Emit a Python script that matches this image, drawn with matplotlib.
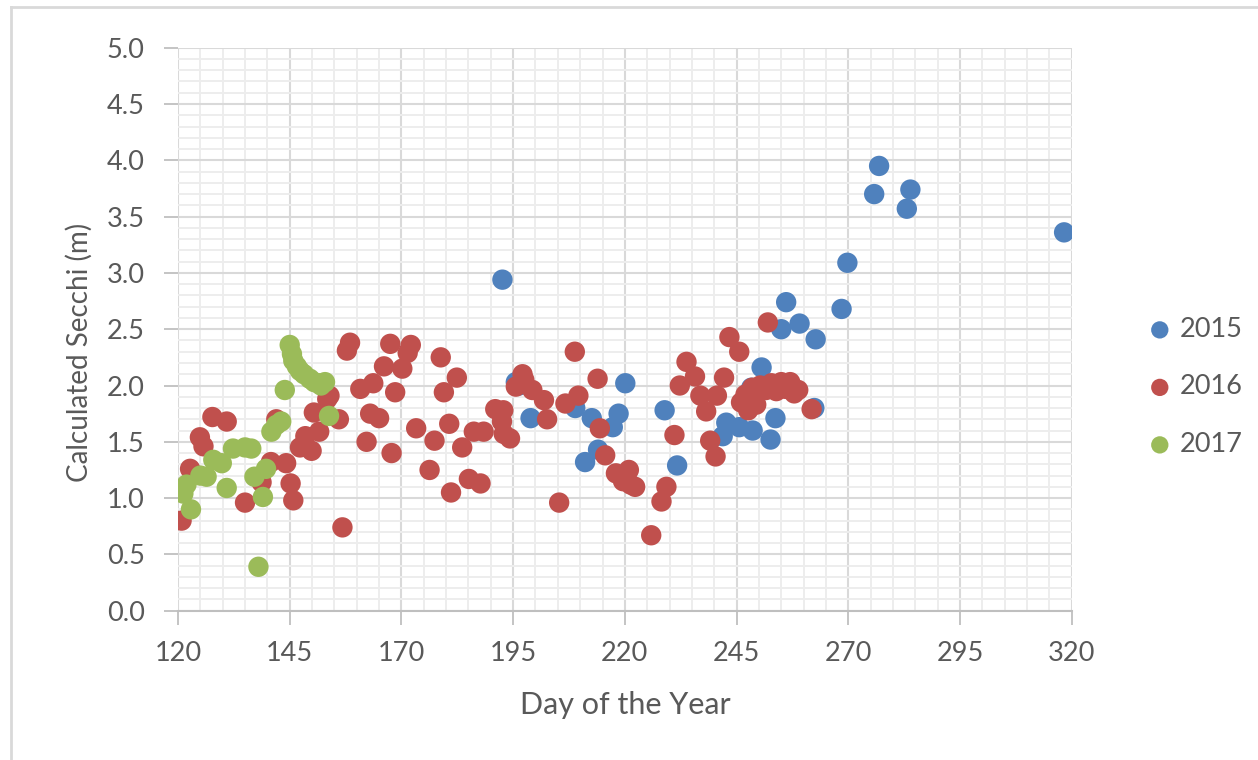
import matplotlib
matplotlib.use("Agg")
import matplotlib.pyplot as plt
from matplotlib.ticker import MultipleLocator, FormatStrFormatter
from matplotlib.lines import Line2D

plt.rcParams['font.family'] = ['Lato', 'DejaVu Sans']

# ---- data ----
day_2015 = [192.6, 195.6, 196.3, 198.9, 208.9, 211.1, 212.6, 214.0, 217.3, 218.6,
            220.1, 228.9, 231.7, 241.9, 242.7, 245.6, 248.3, 248.6, 250.6, 252.6,
            253.7, 255.0, 256.1, 259.1, 262.4, 262.7, 268.5, 269.8, 275.8, 276.9,
            283.1, 283.9, 318.3]
val_2015 = [2.94, 2.03, 2.00, 1.71, 1.80, 1.32, 1.71, 1.43, 1.63, 1.75,
            2.02, 1.78, 1.29, 1.55, 1.67, 1.63, 1.98, 1.60, 2.16, 1.52,
            1.71, 2.50, 2.74, 2.55, 1.80, 2.41, 2.68, 3.09, 3.70, 3.95,
            3.57, 3.74, 3.36]

day_2016 = [120.8, 122.7, 124.9, 125.7, 127.7, 130.9, 135.0, 138.7, 140.8, 142.0,
            144.2, 145.2, 145.8, 147.3, 148.5, 149.9, 150.4, 151.6, 153.4, 153.9,
            156.0, 156.8, 157.8, 158.5, 160.8, 162.2, 163.0, 163.7, 165.0, 166.1,
            167.5, 167.8, 168.6, 170.2, 171.4, 172.1, 173.3, 176.3, 177.4, 178.8,
            179.5, 180.7, 181.1, 182.4, 183.6, 185.1, 186.2, 187.7, 188.4, 191.0,
            192.5, 192.8, 192.9, 194.3, 195.6, 197.1, 197.5, 199.3, 201.9, 202.6,
            205.3, 206.7, 208.8, 209.6, 213.9, 214.4, 215.6, 218.0, 219.6, 220.9,
            221.3, 222.3, 225.9, 228.2, 229.3, 231.1, 232.3, 233.8, 235.7, 236.9,
            238.2, 239.1, 240.3, 240.6, 242.2, 243.4, 245.6, 246.0, 247.0, 247.6,
            248.5, 249.4, 250.3, 251.6, 252.0, 252.8, 253.9, 255.0, 256.0, 257.0,
            257.9, 258.8, 261.8]
val_2016 = [0.80, 1.26, 1.54, 1.46, 1.72, 1.68, 0.96, 1.14, 1.32, 1.70,
            1.31, 1.13, 0.98, 1.45, 1.55, 1.42, 1.76, 1.59, 1.88, 1.91,
            1.70, 0.74, 2.31, 2.38, 1.97, 1.50, 1.75, 2.02, 1.71, 2.17,
            2.37, 1.40, 1.94, 2.15, 2.29, 2.36, 1.62, 1.25, 1.51, 2.25,
            1.94, 1.66, 1.05, 2.07, 1.45, 1.17, 1.59, 1.13, 1.59, 1.79,
            1.68, 1.78, 1.57, 1.53, 1.99, 2.10, 2.05, 1.96, 1.87, 1.70,
            0.96, 1.84, 2.30, 1.91, 2.06, 1.62, 1.38, 1.22, 1.15, 1.25,
            1.12, 1.10, 0.67, 0.97, 1.10, 1.56, 2.00, 2.21, 2.08, 1.91,
            1.77, 1.51, 1.37, 1.91, 2.07, 2.43, 2.30, 1.85, 1.92, 1.78,
            1.98, 1.83, 2.00, 1.96, 2.56, 2.02, 1.95, 2.03, 1.97, 2.03,
            1.93, 1.96, 1.79]

day_2017 = [121.2, 121.9, 122.9, 125.0, 126.4, 127.9, 129.8, 130.9, 132.3, 135.0,
            136.4, 137.1, 138.0, 139.0, 139.7, 140.9, 142.0, 143.1, 143.9, 145.0,
            145.5, 145.8, 146.6, 147.3, 148.2, 149.5, 150.5, 151.4, 152.0, 152.9,
            153.8]
val_2017 = [1.04, 1.12, 0.90, 1.20, 1.19, 1.34, 1.31, 1.09, 1.44, 1.45,
            1.44, 1.19, 0.39, 1.01, 1.26, 1.59, 1.65, 1.68, 1.96, 2.36,
            2.28, 2.22, 2.17, 2.13, 2.10, 2.06, 2.03, 2.02, 2.00, 2.03,
            1.73]

series = [("2015", day_2015, val_2015, "#4F81BD"),
          ("2016", day_2016, val_2016, "#C0504D"),
          ("2017", day_2017, val_2017, "#9BBB59")]

x_ticks = [120, 145, 170, 195, 220, 245, 270, 295, 320]

# ---- figure ----
W, H = 1258, 760
fig = plt.figure(figsize=(W / 100, H / 100), dpi=100)
ax = fig.add_axes([178 / W, 1 - 610.7 / H, (1071.7 - 178) / W, (610.7 - 47.7) / H])

for name, d, v, c in series:
    ax.scatter(d, v, s=215, color=c, edgecolors='none', label=name, zorder=3)

ax.set_xlim(120, 320)
ax.set_ylim(0, 5)
ax.set_xticks(x_ticks)
ax.xaxis.set_minor_locator(MultipleLocator(5))
ax.yaxis.set_major_locator(MultipleLocator(0.5))
ax.yaxis.set_minor_locator(MultipleLocator(0.1))
ax.yaxis.set_major_formatter(FormatStrFormatter('%.1f'))

ax.grid(which='minor', color='#ededed', linewidth=1.4, zorder=0)
ax.grid(which='major', color='#d9d9d9', linewidth=1.5, zorder=1)
ax.set_axisbelow(True)

for s in ['left', 'top', 'right']:
    ax.spines[s].set_visible(False)
ax.spines['bottom'].set_color('#bfbfbf')
ax.spines['bottom'].set_linewidth(1.5)

ax.tick_params(which='major', length=10, width=1.3, color='#bfbfbf',
               labelcolor='#595959', labelsize=19.5)
ax.tick_params(axis='x', which='major', pad=12)
ax.tick_params(axis='y', which='major', pad=14)
ax.tick_params(which='minor', length=0)

ax.set_xlabel('Day of the Year', fontsize=22, color='#595959', labelpad=18)
ax.set_ylabel('Calculated Secchi (m)', fontsize=20, color='#595959')
ax.yaxis.set_label_coords((93 - 178) / 893.7, (610.7 - 352) / 563.0)

fig.legend(loc='center left', bbox_to_anchor=(1130 / W, 1 - 387 / H),
           frameon=False, fontsize=19.5, labelcolor='#595959',
           handletextpad=0.05, labelspacing=1.2, markerscale=0.85,
           borderaxespad=0, handlelength=1.4)

# outer chart border
fig.add_artist(Line2D([10.5 / W, 10.5 / W], [0, 1 - 7 / H], color='#d9d9d9', lw=2))
fig.add_artist(Line2D([10.5 / W, 1], [1 - 7 / H, 1 - 7 / H], color='#d9d9d9', lw=2))

fig.savefig('out.png', dpi=100)
